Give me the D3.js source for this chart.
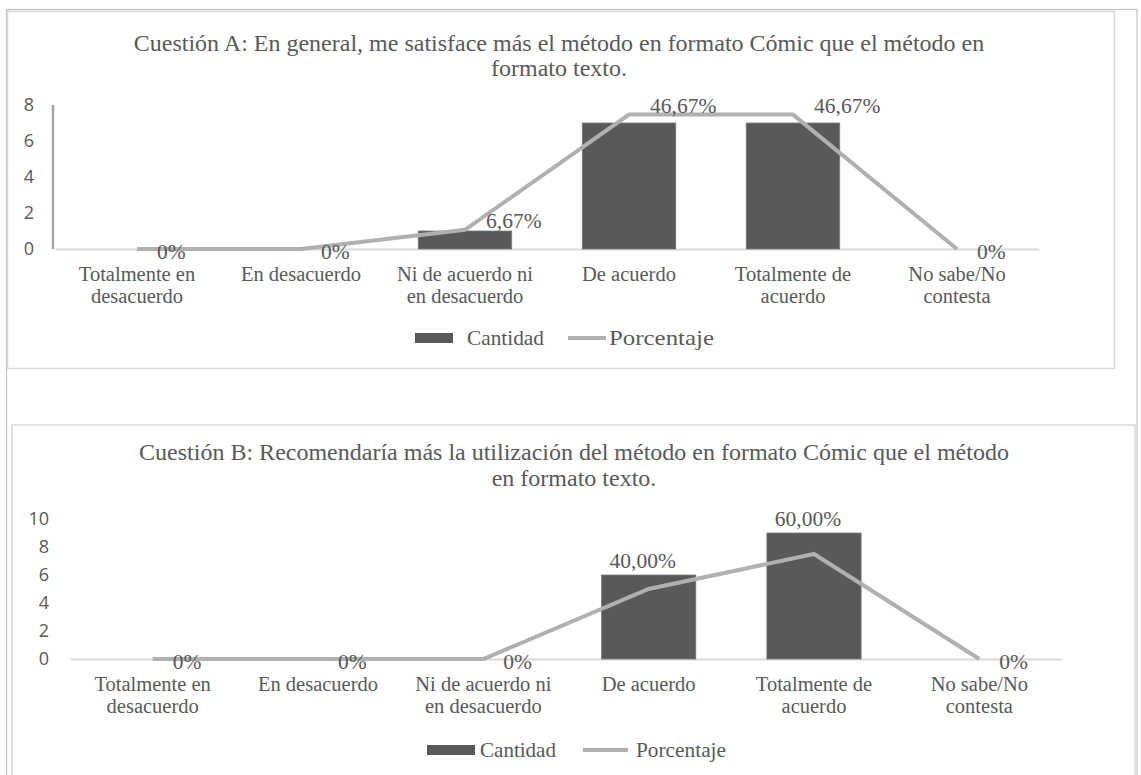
<!DOCTYPE html>
<html>
<head>
<meta charset="utf-8">
<script src="https://cdn.jsdelivr.net/npm/d3@7"></script>
<style>
  html, body { margin: 0; padding: 0; background: #ffffff; }
  svg { display: block; }
</style>
</head>
<body>
<svg id="chart" width="1141" height="775"></svg>
<script>
// ---------------- DATA ----------------
const categories = [
  ["Totalmente  en", "desacuerdo"],
  ["En desacuerdo"],
  ["Ni de acuerdo ni", "en desacuerdo"],
  ["De acuerdo"],
  ["Totalmente  de", "acuerdo"],
  ["No sabe/No", "contesta"]
];
const seriesNames = ["Cantidad", "Porcentaje"];

const titleA = ["Cuestión A: En general, me satisface más el método en formato Cómic que el método en", "formato texto."];
const cantidadA = [0, 0, 1, 7, 7, 0];
const porcentajeA = [0, 0, 0.0667, 0.4667, 0.4667, 0];
const labelsA = ["0%", "0%", "6,67%", "46,67%", "46,67%", "0%"];
const ticksA = [0, 2, 4, 6, 8];

const titleB = ["Cuestión B: Recomendaría más la utilización del método en formato Cómic que el método", "en formato texto."];
const cantidadB = [0, 0, 0, 6, 9, 0];
const porcentajeB = [0, 0, 0, 0.40, 0.60, 0];
const labelsB = ["0%", "0%", "0%", "40,00%", "60,00%", "0%"];
const ticksB = [0, 2, 4, 6, 8, 10];

// ---------------- STYLE ----------------
const SERIF = "'Liberation Serif', 'Times New Roman', serif";
const SANS = "'Open Sans', 'DejaVu Sans', sans-serif";
const TEXT = "#595959";
const BAR = "#595959";
const LINE = "#b0b0b0";

const svg = d3.select("#chart");

// outer frame
svg.append("rect").attr("x", 6.5).attr("y", 9.5).attr("width", 1130.5).attr("height", 820)
  .attr("fill", "none").attr("stroke", "#c4c4c4").attr("stroke-width", 1.2);

function drawChart(cfg) {
  const g = svg.append("g");
  // chart box
  g.append("rect").attr("x", cfg.box[0]).attr("y", cfg.box[1]).attr("width", cfg.box[2]).attr("height", cfg.box[3])
    .attr("fill", "#fff").attr("stroke", "#d9d9d9").attr("stroke-width", 1.5);

  const x = d3.scaleBand().domain(d3.range(categories.length)).range([cfg.x0, cfg.x1])
    .paddingInner(0.43).paddingOuter(0.215);
  const xp = d3.scalePoint().domain(d3.range(categories.length)).range([cfg.x0, cfg.x1]).padding(0.5);
  const y = d3.scaleLinear().domain([0, cfg.yMax]).range([cfg.base, cfg.top]);
  const y2 = d3.scaleLinear().domain([0, cfg.y2Max]).range([cfg.base, cfg.top]);

  // title
  const t = g.append("text").attr("text-anchor", "middle").attr("fill", TEXT)
    .style("font-family", SERIF).style("font-size", "24px");
  cfg.title.forEach((line, i) => {
    t.append("tspan").attr("x", cfg.titleX).attr("y", cfg.titleY[i]).text(line);
  });

  // y axis
  const ya = g.append("g").attr("transform", `translate(${cfg.tickX},0)`)
    .call(d3.axisLeft(y).tickValues(cfg.ticks).tickSize(0).tickPadding(0));
  ya.select(".domain").remove();
  ya.attr("font-size", null).attr("font-family", null);
  ya.selectAll("text").attr("fill", TEXT).style("font-family", SANS).style("font-size", "18px");

  if (cfg.leftAxis) {
    g.append("line").attr("x1", cfg.x0 - 2).attr("x2", cfg.x0 - 2).attr("y1", cfg.top).attr("y2", cfg.base)
      .attr("stroke", "#a6a6a6").attr("stroke-width", 2.5);
  }

  // x axis
  const xa = g.append("g").attr("transform", `translate(0,${cfg.base})`)
    .call(d3.axisBottom(x).tickSize(0).tickFormat(""));
  xa.select(".domain").attr("stroke", "#d9d9d9").attr("stroke-width", 2);
  xa.selectAll(".tick text").attr("fill", TEXT).style("font-family", SERIF).style("font-size", "20.5px")
    .attr("dy", null).attr("y", null)
    .each(function(d) {
      const el = d3.select(this);
      categories[d].forEach((line, i) => {
        el.append("tspan").attr("x", 0).attr("y", 32 + i * 22).text(line);
      });
    });

  // bars
  g.append("g").selectAll("rect").data(cfg.cantidad).join("rect")
    .attr("x", (d, i) => x(i)).attr("width", x.bandwidth())
    .attr("y", d => y(d)).attr("height", d => cfg.base - y(d))
    .attr("fill", BAR).attr("stroke", "#7a7a7a").attr("stroke-width", 0.8)
    .attr("display", d => d > 0 ? null : "none");

  // line
  const line = d3.line().x((d, i) => xp(i)).y(d => y2(d));
  g.append("path").datum(cfg.porcentaje).attr("d", line)
    .attr("fill", "none").attr("stroke", LINE).attr("stroke-width", 4).attr("stroke-linejoin", "miter");

  // data labels
  g.append("g").selectAll("text").data(cfg.labels).join("text")
    .attr("fill", TEXT).style("font-family", SERIF).style("font-size", "21.5px")
    .each(function(d, i) {
      const el = d3.select(this);
      const v = cfg.porcentaje[i];
      if (cfg.labelOnBar && v > 0) {
        el.attr("text-anchor", "middle").attr("x", x(i) + x.bandwidth() / 2 - 6)
          .attr("y", y(cfg.cantidad[i]) - 7);
      } else if (v > 0) {
        el.attr("text-anchor", "start").attr("x", xp(i) + 21).attr("y", y2(v) - 2);
      } else {
        el.attr("text-anchor", "start").attr("x", xp(i) + 20).attr("y", y2(v) + 10);
      }
    })
    .text(d => d);

  // legend
  const L = cfg.legend;
  const lg = g.append("g").style("font-family", SERIF).style("font-size", "21px");
  lg.append("rect").attr("x", L.rectX).attr("y", L.y - 5).attr("width", L.rectW).attr("height", 10)
    .attr("fill", BAR);
  lg.append("text").attr("x", L.text1X).attr("y", L.y + 7).attr("fill", TEXT)
    .attr("textLength", L.text1W).attr("lengthAdjust", "spacingAndGlyphs").text(seriesNames[0]);
  lg.append("line").attr("x1", L.lineX).attr("x2", L.lineX + L.lineW)
    .attr("y1", L.y).attr("y2", L.y).attr("stroke", LINE).attr("stroke-width", 4);
  lg.append("text").attr("x", L.text2X).attr("y", L.y + 7).attr("fill", TEXT)
    .attr("textLength", L.text2W).attr("lengthAdjust", "spacingAndGlyphs").text(seriesNames[1]);
}

drawChart({
  box: [7.5, 11.5, 1107, 357],
  x0: 55, x1: 1039, base: 249, top: 105, yMax: 8, y2Max: 0.5,
  ticks: ticksA, tickX: 34, leftAxis: true,
  title: titleA, titleX: 559, titleY: [51, 76],
  cantidad: cantidadA, porcentaje: porcentajeA, labels: labelsA, labelOnBar: false,
  legend: { y: 338, rectX: 415, rectW: 38, text1X: 467, text1W: 77, lineX: 568, lineW: 38, text2X: 609, text2W: 105 }
});

drawChart({
  box: [12, 425, 1123, 400],
  x0: 70, x1: 1062, base: 659, top: 519, yMax: 10, y2Max: 0.8,
  ticks: ticksB, tickX: 49, leftAxis: false,
  title: titleB, titleX: 574, titleY: [460, 486],
  cantidad: cantidadB, porcentaje: porcentajeB, labels: labelsB, labelOnBar: true,
  legend: { y: 750, rectX: 427, rectW: 48, text1X: 480, text1W: 76, lineX: 583, lineW: 45, text2X: 636, text2W: 90 }
});
</script>
</body>
</html>
